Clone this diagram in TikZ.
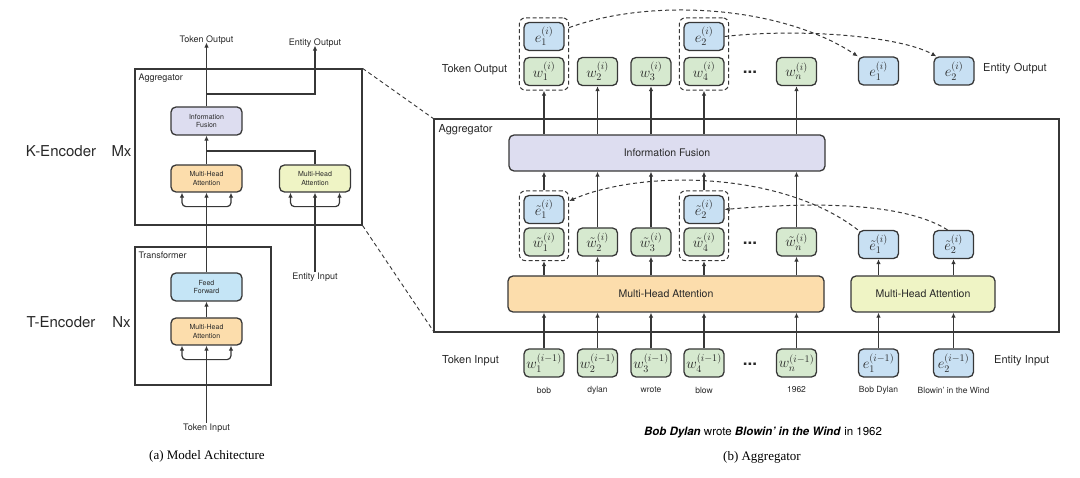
\RequirePackage{fix-cm}
\documentclass[tikz,border=0pt]{standalone}
\usepackage{fontspec}
\setmainfont{TeX Gyre Heros}
\newfontfamily\capfont{Liberation Serif}
\usetikzlibrary{arrows.meta,calc,fit}
\definecolor{bdr}{RGB}{55,55,55}
\definecolor{txt}{RGB}{40,40,40}
\definecolor{gfill}{RGB}{214,233,207}
\definecolor{bfill}{RGB}{200,224,243}
\definecolor{lfill}{RGB}{221,221,240}
\definecolor{ofill}{RGB}{252,221,172}
\definecolor{yfill}{RGB}{239,244,197}
\definecolor{ffill}{RGB}{197,229,246}
\tikzset{
  box/.style={draw=bdr, line width=1.3pt, rounded corners=5pt, inner sep=0pt, text=txt},
  tok/.style={box, fill=gfill, minimum width=40pt, minimum height=28pt, font=\fontsize{14.5}{14.5}\selectfont},
  ent/.style={tok, fill=bfill},
  grp/.style={draw=bdr, dashed, line width=1pt, dash pattern=on 4pt off 2.5pt, rounded corners=6pt, inner sep=4pt},
  arr/.style={draw=bdr, line width=1.2pt, -{Latex[length=5pt,width=4.5pt]}},
  ln/.style={draw=bdr, line width=1.2pt},
  dsh/.style={draw=bdr, line width=1pt, dash pattern=on 4pt off 3pt, -{Latex[length=5pt,width=4.5pt]}},
  lbl/.style={font=\fontsize{11}{13}\selectfont, text=txt, inner sep=1pt},
  slbl/.style={font=\fontsize{9}{11}\selectfont, text=txt, inner sep=1pt},
  wlbl/.style={font=\fontsize{8.5}{10}\selectfont, text=txt, inner sep=1pt},
  big/.style={font=\fontsize{15}{17}\selectfont, text=txt, inner sep=0pt},
  sbox/.style={box, minimum width=71pt, minimum height=28pt, align=center, font=\fontsize{7}{8.5}\selectfont},
  wide/.style={box, minimum height=36pt, font=\fontsize{10.5}{12}\selectfont},
  frame/.style={draw=bdr, line width=1.2pt, inner sep=0pt},
  dotsn/.style={font=\fontsize{17}{17}\selectfont\bfseries, text=txt, inner sep=0pt},
  zoomln/.style={draw=bdr, line width=0.9pt, dash pattern=on 4pt off 3pt}
}
\begin{document}
\begin{tikzpicture}[x=1pt,y=-1pt]
\useasboundingbox (0,0) rectangle (1080,478);
% ================= LEFT PANEL =================
\node[frame, minimum width=227pt, minimum height=156pt] (aggL) at (248.5,147) {};
\node[slbl, anchor=north west] (aggLl) at ($(aggL.north west)+(3,4)$) {Aggregator};
\node[sbox, fill=lfill] (ifL) at (206.5,121) {Information\\Fusion};
\node[sbox, fill=ofill, minimum height=27pt] (mhaL) at (206.5,178.5) {Multi-Head\\Attention};
\node[sbox, fill=yfill, minimum height=27pt] (mhaR) at (315,178.5) {Multi-Head\\Attention};
\node[frame, minimum width=136pt, minimum height=138pt] (trL) at (203,316) {};
\node[slbl, anchor=north west] (trLl) at ($(trL.north west)+(3,4)$) {Transformer};
\node[sbox, fill=ffill] (ffL) at (206.5,287) {Feed\\Forward};
\node[sbox, fill=ofill, minimum height=27pt] (mhaT) at (206.5,331.5) {Multi-Head\\Attention};
\node[slbl] (tokOutL) at (206.5,40) {Token Output};
\node[slbl] (entOutL) at (315,43) {Entity Output};
\node[slbl] (tokInL) at (206.5,428) {Token Input};
\node[slbl] (entInL) at (315,277) {Entity Input};
\node[big] (kenc) at (61,151) {K-Encoder};
\node[big] (mx) at (121.5,151) {Mx};
\node[big] (tenc) at (61,322) {T-Encoder};
\node[big] (nx) at (121.5,322) {Nx};
\node[font=\capfont\fontsize{13}{15}\selectfont, text=black, inner sep=0pt] (capA) at (207,456) {(a) Model Achitecture};
% left connectors
\draw[arr] (ifL.north) -- ([yshift=3pt]tokOutL.south);
\coordinate (jOut) at (206.5,94);
\draw[arr] (jOut) -| ([yshift=3pt]entOutL.south);
\draw[arr] (mhaL.north) -- (ifL.south);
\coordinate (jIn) at (206.5,151);
\draw[ln] (mhaR.north) |- (jIn);
\draw[arr] (ffL.north) -- (mhaL.south);
\draw[arr] (entInL.north) -- (mhaR.south);
\draw[arr] (mhaT.north) -- (ffL.south);
\draw[arr] (tokInL.north) -- (mhaT.south);
\foreach \n in {mhaL,mhaR,mhaT}{
  \draw[arr, rounded corners=4pt] ($(\n.south)+(0,14)$) -| ($(\n.south)+(-24.5,0)$);
  \draw[arr, rounded corners=4pt] ($(\n.south)+(0,14)$) -| ($(\n.south)+(24.5,0)$);
}
% zoom lines
\draw[zoomln] (aggL.north east) -- (434,119) coordinate (aggRnw);
\draw[zoomln] (aggL.south east) -- (434,332) coordinate (aggRsw);
% ================= RIGHT PANEL =================
\node[frame, minimum width=625pt, minimum height=213pt] (aggR) at (746.5,225.5) {};
\node[lbl, anchor=north west] (aggRl) at ($(aggR.north west)+(4,5)$) {Aggregator};
\node[wide, fill=lfill, minimum width=316pt] (IF) at (667,153) {Information Fusion};
\node[wide, fill=ofill, minimum width=316pt] (MHA) at (666,294) {Multi-Head Attention};
\node[wide, fill=yfill, minimum width=144pt] (MHAe) at (923,294) {Multi-Head Attention};
% top row
\node[ent] (e1) at (544,36.5) {$e_1^{(i)}$};
\node[ent] (e2) at (704,36.5) {$e_2^{(i)}$};
\node[tok] (w1) at (544,71.5) {$w_1^{(i)}$};
\node[tok] (w2) at (597.5,71.5) {$w_2^{(i)}$};
\node[tok] (w3) at (651,71.5) {$w_3^{(i)}$};
\node[tok] (w4) at (704,71.5) {$w_4^{(i)}$};
\node[dotsn] (dt) at (750,72) {...};
\node[tok] (wn) at (796.5,71.5) {$w_n^{(i)}$};
\node[ent] (eo1) at (878.5,71) {$e_1^{(i)}$};
\node[ent] (eo2) at (954,71) {$e_2^{(i)}$};
\node[grp, fit=(e1)(w1)] (gT1) {};
\node[grp, fit=(e2)(w4)] (gT4) {};
\node[lbl] (tokOut) at (474.5,70) {Token Output};
\node[lbl, anchor=west] (entOut) at (982,69) {Entity Output};
% middle row
\node[ent] (te1) at (544,209.5) {$\tilde{e}_1^{(i)}$};
\node[ent] (te2) at (704,209.5) {$\tilde{e}_2^{(i)}$};
\node[tok] (tw1) at (544,242) {$\tilde{w}_1^{(i)}$};
\node[tok] (tw2) at (597.5,242) {$\tilde{w}_2^{(i)}$};
\node[tok] (tw3) at (651,242) {$\tilde{w}_3^{(i)}$};
\node[tok] (tw4) at (704,242) {$\tilde{w}_4^{(i)}$};
\node[dotsn] (dm) at (750,243) {...};
\node[tok] (twn) at (796.5,242) {$\tilde{w}_n^{(i)}$};
\node[ent] (tr1) at (878.5,244.5) {$\tilde{e}_1^{(i)}$};
\node[ent] (tr2) at (953.5,244.5) {$\tilde{e}_2^{(i)}$};
\node[grp, fit=(te1)(tw1)] (gM1) {};
\node[grp, fit=(te2)(tw4)] (gM4) {};
% bottom row
\node[tok] (b1) at (544,363) {$w_1^{(i-1)}$};
\node[tok] (b2) at (597.5,363) {$w_2^{(i-1)}$};
\node[tok] (b3) at (651,363) {$w_3^{(i-1)}$};
\node[tok] (b4) at (704,363) {$w_4^{(i-1)}$};
\node[dotsn] (db) at (750,364) {...};
\node[tok] (bn) at (796.5,363) {$w_n^{(i-1)}$};
\node[ent] (be1) at (878.5,363) {$e_1^{(i-1)}$};
\node[ent] (be2) at (953.5,363) {$e_2^{(i-1)}$};
\node[lbl] (tokIn) at (470.5,361) {Token Input};
\node[lbl, anchor=west] (entIn) at (993,361) {Entity Input};
\node[wlbl] (l1) at (544,390) {bob};
\node[wlbl] (l2) at (597.5,390) {dylan};
\node[wlbl] (l3) at (651,390) {wrote};
\node[wlbl] (l4) at (704,390) {blow};
\node[wlbl] (ln) at (796.5,390) {1962};
\node[wlbl] (le1) at (878.5,390) {Bob Dylan};
\node[wlbl] (le2) at (953.5,390) {Blowin' in the Wind};
\node[font=\fontsize{11.5}{13}\selectfont, text=black, inner sep=0pt] (sent) at (763,432) {\textbf{\textit{Bob Dylan}} wrote \textbf{\textit{Blowin' in the Wind}} in 1962};
\node[font=\capfont\fontsize{13}{15}\selectfont, text=black, inner sep=0pt] (capB) at (762,457) {(b) Aggregator};
% right connectors: fusion to top
\draw[arr] (gT1.south |- IF.north) -- (gT1.south);
\draw[arr] (w2.south |- IF.north) -- (w2.south);
\draw[arr] (w3.south |- IF.north) -- (w3.south);
\draw[arr] (gT4.south |- IF.north) -- (gT4.south);
\draw[arr] (wn.south |- IF.north) -- (wn.south);
% middle to fusion
\draw[arr] (gM1.north) -- (gM1.north |- IF.south);
\draw[arr] (tw2.north) -- (tw2.north |- IF.south);
\draw[arr] (tw3.north) -- (tw3.north |- IF.south);
\draw[arr] (gM4.north) -- (gM4.north |- IF.south);
\draw[arr] (twn.north) -- (twn.north |- IF.south);
% MHA to middle
\draw[arr] (gM1.south |- MHA.north) -- (gM1.south);
\draw[arr] (tw2.south |- MHA.north) -- (tw2.south);
\draw[arr] (tw3.south |- MHA.north) -- (tw3.south);
\draw[arr] (gM4.south |- MHA.north) -- (gM4.south);
\draw[arr] (twn.south |- MHA.north) -- (twn.south);
\draw[arr] (tr1.south |- MHAe.north) -- (tr1.south);
\draw[arr] (tr2.south |- MHAe.north) -- (tr2.south);
% inputs to MHA
\foreach \n in {b1,b2,b3,b4,bn}{\draw[arr] (\n.north) -- (\n.north |- MHA.south);}
\foreach \n in {be1,be2}{\draw[arr] (\n.north) -- (\n.north |- MHAe.south);}
% dashed entity arrows
\draw[dsh] ($(gT1.north east)!0.14!(gT1.south east)$) .. controls (650,-2) and (780,5) .. (eo1.north west);
\draw[dsh] (e2.east) .. controls (800,28) and (900,36) .. ($(eo2.north west)+(3,0)$);
\draw[dsh] (tr1.north west) .. controls (780,170) and (640,170) .. ($(gM1.north east)!0.15!(gM1.south east)$);
\draw[dsh] ($(tr2.north)+(-6,0)$) .. controls (900,200) and (800,203) .. (te2.east);
\end{tikzpicture}
\end{document}
